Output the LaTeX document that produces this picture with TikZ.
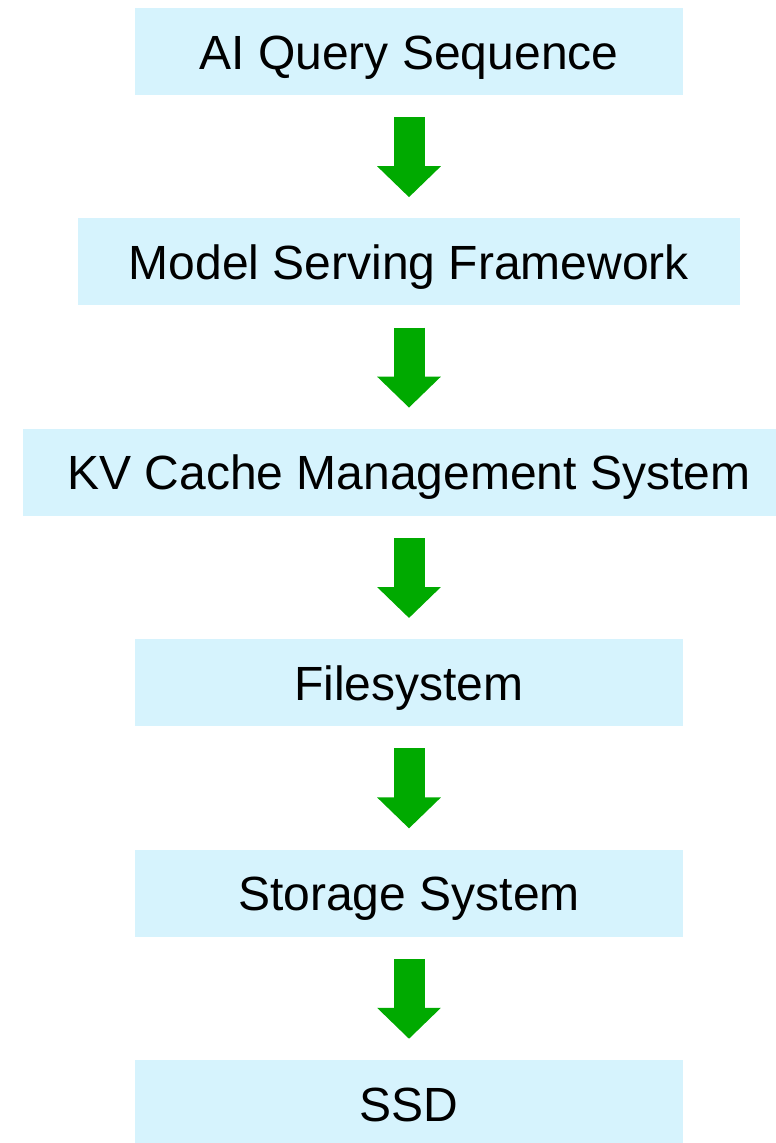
\documentclass[tikz,border=0pt]{standalone}
\usepackage{fontspec}
\setmainfont{Liberation Sans}
\usepackage{xcolor}
\usetikzlibrary{positioning, arrows.meta}
\definecolor{layerfill}{RGB}{214,243,253}
\definecolor{flowgreen}{RGB}{0,170,0}
\tikzstyle{every node}=[font=\fontsize{48}{58}\selectfont]
\tikzstyle{layer} = [rectangle, fill=layerfill, text centered, text height=35pt, text depth=0pt, minimum width=548pt, minimum height=87pt, inner sep=0pt, node distance=123pt]
\tikzstyle{flow} = [draw=flowgreen, line width=31pt, -{Triangle[width=62pt, length=31pt, fill=flowgreen]}]

\begin{document}
\begin{tikzpicture}
    \useasboundingbox (0,0) rectangle (776pt,-1143pt);
    \clip (0,0) rectangle (776pt,-1143pt);
    % Place nodes
    \node [layer] at (409pt,-51.5pt) (query) {AI Query Sequence};
    \node [layer, below=of query, minimum width=662pt] (serving) {Model Serving Framework};
    \node [layer, below=of serving, minimum width=772pt] (kvcache) {KV Cache Management System};
    \node [layer, below=of kvcache] (fs) {Filesystem};
    \node [layer, below=of fs] (storage) {Storage System};
    \node [layer, below=of storage] (ssd) {SSD};
    % Draw edges
    \path [flow] ([yshift=-22pt]query.south) -- ([yshift=21pt]serving.north);
    \path [flow] ([yshift=-22pt]serving.south) -- ([yshift=21pt]kvcache.north);
    \path [flow] ([yshift=-22pt]kvcache.south) -- ([yshift=21pt]fs.north);
    \path [flow] ([yshift=-22pt]fs.south) -- ([yshift=21pt]storage.north);
    \path [flow] ([yshift=-22pt]storage.south) -- ([yshift=21pt]ssd.north);
\end{tikzpicture}
\end{document}
